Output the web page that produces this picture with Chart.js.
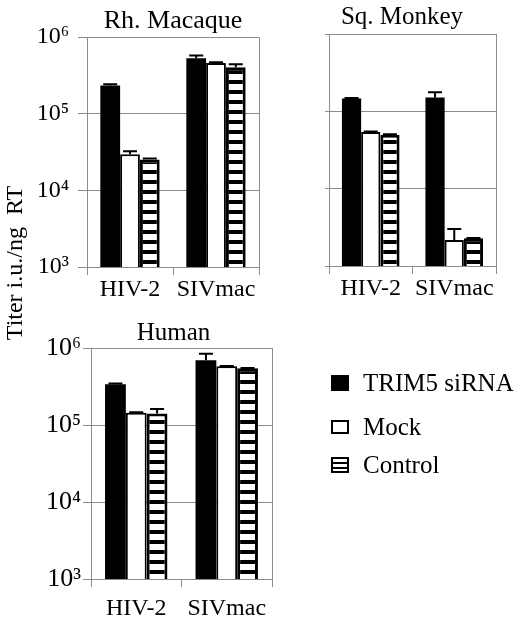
<!DOCTYPE html>
<html>
<head>
<meta charset="utf-8">
<script src="https://cdn.jsdelivr.net/npm/chart.js@4/dist/chart.umd.min.js"></script>
<style>
  html, body { margin: 0; padding: 0; background: #fff; overflow: hidden; }
  #wrap { position: relative; width: 516px; height: 620px; font-family: "Liberation Serif", "Times New Roman", serif; color: #000; }
  canvas { position: absolute; }
  #ytitle { position: absolute; left: -86px; top: 249px; width: 200px; height: 28px; line-height: 28px;
            font-size: 24px; text-align: center; transform: rotate(-90deg); white-space: nowrap; }
  .row { position: absolute; left: 331px; height: 28px; line-height: 28px; font-size: 25px; white-space: nowrap; }
  .row span.sw { position: absolute; left: 0; box-sizing: border-box; width: 18px; }
  .row span.txt { position: absolute; left: 32px; top: 0; }
  .solid { top: 6px; height: 16px; background: #000; }
  .open { top: 7px; height: 14px; border: 2px solid #000; background: #fff; }
  .striped { top: 6px; height: 16px; border: 2px solid #000;
             background: repeating-linear-gradient(#fff 0 3px, #000 3px 5px); }
</style>
</head>
<body>
<div id="wrap">
  <canvas id="rh" width="265" height="305" style="left:0;top:0"></canvas>
  <canvas id="sq" width="228" height="305" style="left:288px;top:0"></canvas>
  <canvas id="hu" width="347" height="310" style="left:0;top:310px"></canvas>
  <div id="ytitle">Titer i.u./ng&nbsp; RT</div>
  <div class="row" style="top:369px"><span class="sw solid"></span><span class="txt">TRIM5 siRNA</span></div>
  <div class="row" style="top:413px"><span class="sw open"></span><span class="txt">Mock</span></div>
  <div class="row" style="top:451px"><span class="sw striped"></span><span class="txt">Control</span></div>
</div>
<script>
const groups = ['HIV-2', 'SIVmac'];
const treatments = ['TRIM5 siRNA', 'Mock', 'Control'];
const yTicks = [1e3, 1e4, 1e5, 1e6];
const supers = { 3: '\u00b3', 4: '\u2074', 5: '\u2075', 6: '\u2076' };

// Rh. Macaque
const rhTrim = [235000, 530000];
const rhMock = [29600, 460000];
const rhControl = [25300, 405000];
const rhTrimErr = [243000, 578000];
const rhMockErr = [32400, 470000];
const rhControlErr = [26000, 445000];

// Sq. Monkey
const sqTrim = [147000, 151000];
const sqMock = [53900, 2170];
const sqControl = [49800, 2280];
const sqTrimErr = [149000, 176000];
const sqMockErr = [55000, 3020];
const sqControlErr = [50500, 2300];

// Human
const huTrim = [339000, 693000];
const huMock = [144000, 580000];
const huControl = [141000, 545000];
const huTrimErr = [345000, 840000];
const huMockErr = [146000, 585000];
const huControlErr = [161000, 550000];

const SERIF = '"Liberation Serif", "Times New Roman", serif';
const GRID = '#8c8c8c';

function stripes(ctx) {
  const c = document.createElement('canvas');
  c.width = 10; c.height = 10;
  const g = c.getContext('2d');
  g.fillStyle = '#fff'; g.fillRect(0, 0, 10, 10);
  g.fillStyle = '#000'; g.fillRect(0, 0, 10, 4);
  return ctx.createPattern(c, 'repeat');
}

// error bars drawn from the dataset's errorHigh values, through the y scale
const errorBars = {
  id: 'errorBars',
  afterDatasetsDraw(chart) {
    const ctx = chart.ctx, y = chart.scales.y;
    ctx.save();
    ctx.strokeStyle = '#000';
    ctx.lineWidth = 2;
    chart.data.datasets.forEach((ds, i) => {
      chart.getDatasetMeta(i).data.forEach((bar, j) => {
        const hi = ds.errorHigh[j];
        if (!(hi > ds.data[j])) return;
        const top = y.getPixelForValue(hi);
        ctx.beginPath();
        ctx.moveTo(bar.x, bar.y);
        ctx.lineTo(bar.x, top);
        ctx.moveTo(bar.x - 7, top);
        ctx.lineTo(bar.x + 7, top);
        ctx.stroke();
      });
    });
    ctx.restore();
  }
};

// right edge of the plot box
const frame = {
  id: 'frame',
  beforeDatasetsDraw(chart) {
    const { ctx, chartArea: a } = chart;
    ctx.save();
    ctx.strokeStyle = GRID;
    ctx.lineWidth = 1;
    ctx.beginPath();
    ctx.moveTo(a.right + 0.5, a.top);
    ctx.lineTo(a.right + 0.5, a.bottom);
    ctx.stroke();
    ctx.restore();
  }
};

function makeChart(id, o) {
  const ctx = document.getElementById(id).getContext('2d');
  const scales = {
    x: {
      grid: { offset: true, drawOnChartArea: false, drawTicks: true, tickLength: 8, color: GRID },
      border: { color: GRID },
      ticks: { color: '#000', font: { family: SERIF, size: 24 }, padding: o.xPad, maxRotation: 0 },
      afterFit: s => { s.height = o.xHeight; }
    },
    y: {
      type: 'logarithmic', min: 1e3, max: 1e6,
      afterBuildTicks: s => { s.ticks = yTicks.map(v => ({ value: v })); },
      grid: { color: GRID, tickLength: o.yTickLen },
      border: { color: GRID },
      ticks: {
        color: '#000', font: { family: SERIF, size: o.yFont }, padding: o.yPad,
        callback: v => o.yLabels ? '10' + supers[Math.round(Math.log10(v))] : ''
      },
      afterFit: s => { s.width = o.yWidth; }
    }
  };
  if (o.rightGap) {
    // empty space to the right of the plot, so the title sits where the original has it
    scales.gap = {
      type: 'linear', position: 'right', display: true,
      grid: { display: false }, border: { display: false }, ticks: { display: false },
      afterFit: s => { s.width = o.rightGap; }
    };
  }
  return new Chart(ctx, {
    type: 'bar',
    data: {
      labels: groups,
      datasets: [
        { label: treatments[0], data: o.trim, errorHigh: o.trimErr, backgroundColor: '#000', borderWidth: 0 },
        { label: treatments[1], data: o.mock, errorHigh: o.mockErr, backgroundColor: '#fff', borderColor: '#000',
          borderWidth: { top: 2, left: 2, right: 2, bottom: 0 } },
        { label: treatments[2], data: o.control, errorHigh: o.controlErr, backgroundColor: stripes(ctx), borderColor: '#000',
          borderWidth: { top: 3, left: 3, right: 3, bottom: 0 } }
      ]
    },
    options: {
      responsive: false,
      animation: false,
      events: [],
      datasets: { bar: { categoryPercentage: 0.69, barPercentage: 1 } },
      layout: { padding: { right: o.padRight, left: o.padLeft, top: 0, bottom: 0 } },
      plugins: {
        legend: { display: false },
        tooltip: { enabled: false },
        title: {
          display: true, text: o.title, color: '#000', fullSize: o.titleFull,
          font: { family: SERIF, size: o.titleFont, weight: 'normal' },
          padding: { top: o.titleTop, bottom: o.titleBottom }
        }
      },
      scales
    },
    plugins: [frame, errorBars]
  });
}

makeChart('rh', {
  title: 'Rh. Macaque', titleFull: false, titleFont: 26, titleTop: 6, titleBottom: 0,
  trim: rhTrim, mock: rhMock, control: rhControl,
  trimErr: rhTrimErr, mockErr: rhMockErr, controlErr: rhControlErr,
  yWidth: 87, xHeight: 38, padLeft: 0, padRight: 6, yLabels: true, yFont: 24, yTickLen: 9, yPad: 9, xPad: 0
});

makeChart('sq', {
  title: 'Sq. Monkey', titleFull: true, titleFont: 25, titleTop: 2, titleBottom: 2,
  trim: sqTrim, mock: sqMock, control: sqControl,
  trimErr: sqTrimErr, mockErr: sqMockErr, controlErr: sqControlErr,
  yWidth: 21, xHeight: 39, padLeft: 20, padRight: 20, yLabels: false, yFont: 24, yTickLen: 4, yPad: 0, xPad: 0
});

makeChart('hu', {
  title: 'Human', titleFull: true, titleFont: 25, titleTop: 8, titleBottom: 0,
  trim: huTrim, mock: huMock, control: huControl,
  trimErr: huTrimErr, mockErr: huMockErr, controlErr: huControlErr,
  yWidth: 91, xHeight: 41, padLeft: 0, padRight: 0, rightGap: 75,
  yLabels: true, yFont: 26, yTickLen: 8, yPad: 2, xPad: 7
});
</script>
</body>
</html>
